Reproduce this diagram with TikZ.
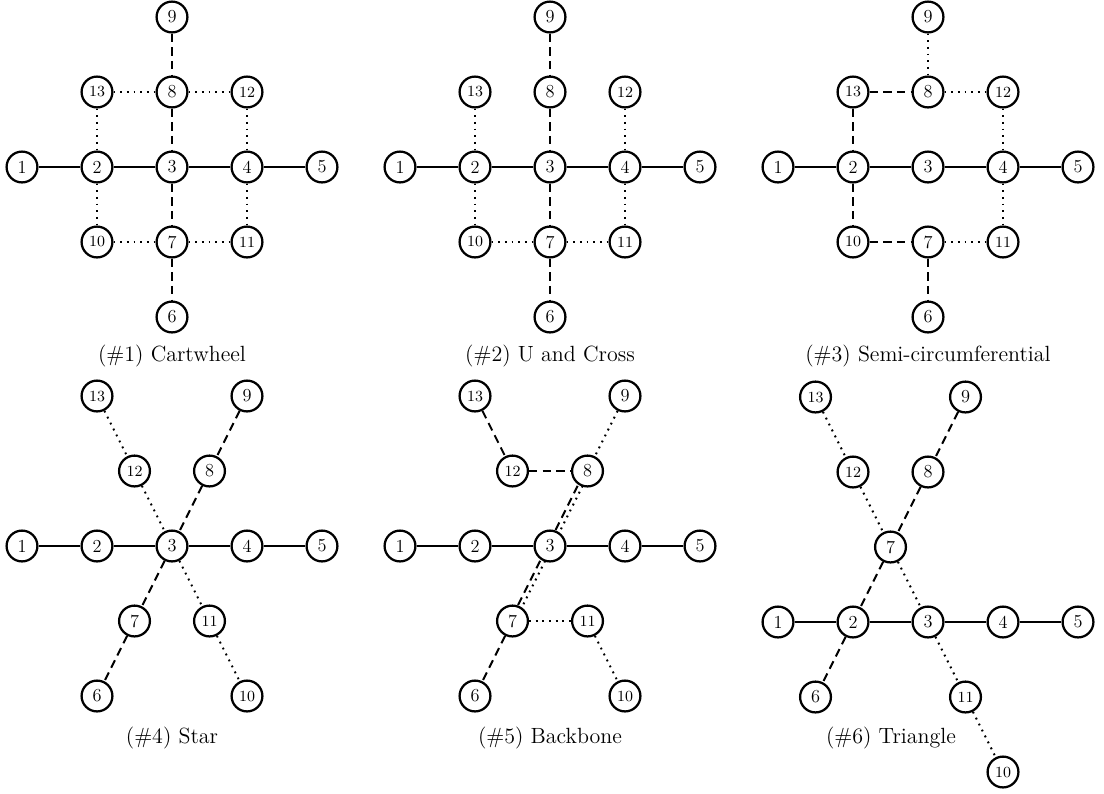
\documentclass[tikz,border=0pt]{standalone}
\begin{document}
\tikzset{
  nd/.style={circle,draw,line width=1.35pt,minimum size=18.5pt,inner sep=0pt,font=\fontsize{11}{13}\selectfont},
  ndsmall/.style={font=\fontsize{9.3}{11}\selectfont},
  solidE/.style={line width=1.1pt},
  dashE/.style={line width=1.2pt,dash pattern=on 5pt off 3.2pt},
  dotE/.style={line width=1.2pt,dash pattern=on 1.1pt off 2.9pt},
  captxt/.style={font=\fontsize{13.2}{16}\selectfont,inner sep=0pt}
}
\newcommand\mknodes[2]{%
  \foreach \n/\x/\y in {#2}{%
    \ifnum\n>9
      \node[nd,ndsmall] (#1\n) at (\x,\y) {\n};
    \else
      \node[nd] (#1\n) at (\x,\y) {\n};
    \fi}}
\newcommand\mkedges[3]{\foreach \a/\b in {#3}{\draw[#2] (#1\a) -- (#1\b);}}
\begin{tikzpicture}[x=0.6pt,y=-0.6pt]
\useasboundingbox (0,0) rectangle (1104,793);
% ---------- Panel 1
\begin{scope}[shift={(172,167)},x=45pt,y=-45pt]
\mknodes{A}{1/-2/0,2/-1/0,3/0/0,4/1/0,5/2/0,9/0/-2,8/0/-1,13/-1/-1,12/1/-1,10/-1/1,7/0/1,11/1/1,6/0/2}
\end{scope}
\mkedges{A}{solidE}{1/2,2/3,3/4,4/5}
\mkedges{A}{dashE}{9/8,8/3,3/7,7/6}
\mkedges{A}{dotE}{13/8,8/12,13/2,12/4,2/10,4/11,10/7,7/11}
\node[captxt] (capA) at (172,356) {(\#1) Cartwheel};
% ---------- Panel 2
\begin{scope}[shift={(550,167)},x=45pt,y=-45pt]
\mknodes{B}{1/-2/0,2/-1/0,3/0/0,4/1/0,5/2/0,9/0/-2,8/0/-1,13/-1/-1,12/1/-1,10/-1/1,7/0/1,11/1/1,6/0/2}
\end{scope}
\mkedges{B}{solidE}{1/2,2/3,3/4,4/5}
\mkedges{B}{dashE}{9/8,8/3,3/7,7/6}
\mkedges{B}{dotE}{13/2,12/4,2/10,4/11,10/7,7/11}
\node[captxt] (capB) at (550,356) {(\#2) U and Cross};
% ---------- Panel 3
\begin{scope}[shift={(928,167)},x=45pt,y=-45pt]
\mknodes{C}{1/-2/0,2/-1/0,3/0/0,4/1/0,5/2/0,9/0/-2,8/0/-1,13/-1/-1,12/1/-1,10/-1/1,7/0/1,11/1/1,6/0/2}
\end{scope}
\mkedges{C}{solidE}{1/2,2/3,3/4,4/5}
\mkedges{C}{dashE}{13/8,13/2,2/10,10/7,7/6}
\mkedges{C}{dotE}{9/8,8/12,12/4,4/11,7/11}
\node[captxt] (capC) at (928,356) {(\#3) Semi-circumferential};
% ---------- Panel 4
\begin{scope}[shift={(172,546)},x=45pt,y=-45pt]
\mknodes{D}{1/-2/0,2/-1/0,3/0/0,4/1/0,5/2/0,13/-1/-2,12/-0.5/-1,9/1/-2,8/0.5/-1,7/-0.5/1,6/-1/2,11/0.5/1,10/1/2}
\end{scope}
\mkedges{D}{solidE}{1/2,2/3,3/4,4/5}
\mkedges{D}{dashE}{9/8,8/3,3/7,7/6}
\mkedges{D}{dotE}{13/12,12/3,3/11,11/10}
\node[captxt] (capD) at (172,738) {(\#4) Star};
% ---------- Panel 5
\begin{scope}[shift={(550,546)},x=45pt,y=-45pt]
\mknodes{E}{1/-2/0,2/-1/0,3/0/0,4/1/0,5/2/0,13/-1/-2,12/-0.5/-1,9/1/-2,8/0.5/-1,7/-0.5/1,6/-1/2,11/0.5/1,10/1/2}
\end{scope}
\mkedges{E}{solidE}{1/2,2/3,3/4,4/5}
\mkedges{E}{dashE}{13/12,12/8,7/6}
\mkedges{E}{dotE}{9/8,7/11,11/10}
\draw[dashE,transform canvas={xshift=-1.5pt}] (E8) -- (E3);
\draw[dotE,transform canvas={xshift=1.5pt}] (E8) -- (E3);
\draw[dashE,transform canvas={xshift=-1.5pt}] (E3) -- (E7);
\draw[dotE,transform canvas={xshift=1.5pt}] (E3) -- (E7);
\node[captxt] (capE) at (550,738) {(\#5) Backbone};
% ---------- Panel 6
\begin{scope}[shift={(928,622)},x=45pt,y=-45pt]
\mknodes{F}{1/-2/0,2/-1/0,3/0/0,4/1/0,5/2/0,7/-0.5/-1,12/-1/-2,13/-1.5/-3,8/0/-2,9/0.5/-3,6/-1.5/1,11/0.5/1,10/1/2}
\end{scope}
\mkedges{F}{solidE}{1/2,2/3,3/4,4/5}
\mkedges{F}{dashE}{9/8,8/7,7/2,2/6}
\mkedges{F}{dotE}{13/12,12/7,7/3,3/11,11/10}
\node[captxt] (capF) at (891,738) {(\#6) Triangle};
\end{tikzpicture}
\end{document}
